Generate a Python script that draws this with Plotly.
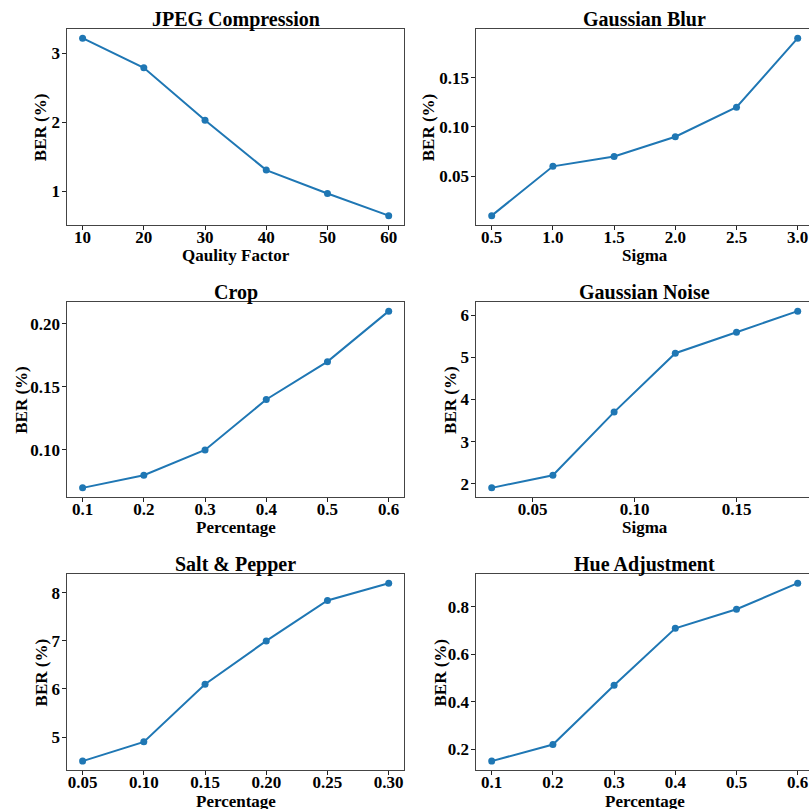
import plotly.graph_objects as go

W = H = 809

titles = ["JPEG Compression", "Gaussian Blur", "Crop", "Gaussian Noise", "Salt & Pepper", "Hue Adjustment"]
xlabels = ["Qaulity Factor", "Sigma", "Percentage", "Sigma", "Percentage", "Percentage"]
ylabel = "BER (%)"

jpeg_x = [10, 20, 30, 40, 50, 60]
jpeg_y = [3.22, 2.79, 2.03, 1.31, 0.97, 0.65]
blur_x = [0.5, 1.0, 1.5, 2.0, 2.5, 3.0]
blur_y = [0.01, 0.06, 0.07, 0.09, 0.12, 0.19]
crop_x = [0.1, 0.2, 0.3, 0.4, 0.5, 0.6]
crop_y = [0.07, 0.08, 0.10, 0.14, 0.17, 0.21]
noise_x = [0.03, 0.06, 0.09, 0.12, 0.15, 0.18]
noise_y = [1.9, 2.2, 3.7, 5.1, 5.6, 6.1]
sp_x = [0.05, 0.10, 0.15, 0.20, 0.25, 0.30]
sp_y = [4.5, 4.9, 6.1, 7.0, 7.84, 8.2]
hue_x = [0.1, 0.2, 0.3, 0.4, 0.5, 0.6]
hue_y = [0.15, 0.22, 0.47, 0.71, 0.79, 0.90]

xtick_vals = [jpeg_x, blur_x, crop_x, [0.05, 0.10, 0.15], sp_x, hue_x]
xtick_fmt = ["d", ".1f", ".1f", ".2f", ".2f", ".1f"]
ytick_vals = [[1, 2, 3], [0.05, 0.10, 0.15], [0.10, 0.15, 0.20], [2, 3, 4, 5, 6], [5, 6, 7, 8], [0.2, 0.4, 0.6, 0.8]]
ytick_fmt = ["d", ".2f", ".2f", "d", "d", ".1f"]
ytitle_offset = [26, 48, 46, 26, 26, 36]

series = [(jpeg_x, jpeg_y), (blur_x, blur_y), (crop_x, crop_y),
          (noise_x, noise_y), (sp_x, sp_y), (hue_x, hue_y)]

# pixel layout of panels (left, right, top, bottom)
col_px = [(67.3, 404.0), (476.4, 813.0)]
row_px = [(29.3, 224.5), (302.3, 496.7), (574.3, 770.0)]

FONT = "Liberation Serif, Times New Roman, serif"
BLUE = "#1f77b4"

fig = go.Figure()
annotations = []

for i, (xs, ys) in enumerate(series):
    r, c = divmod(i, 2)
    L, R = col_px[c]
    T, B = row_px[r]
    # matplotlib-style 5% margins
    xlo, xhi = min(xs), max(xs)
    ylo, yhi = min(ys), max(ys)
    xm = (xhi - xlo) * 0.05
    ym = (yhi - ylo) * 0.05
    x0, x1 = xlo - xm, xhi + xm
    # clip to canvas
    Rc = min(R, W)
    x1c = x0 + (x1 - x0) * (Rc - L) / (R - L)
    n = "" if i == 0 else str(i + 1)
    xa = "x" + n
    ya = "y" + n
    fig.add_trace(go.Scatter(x=xs, y=ys, mode="lines+markers", xaxis=xa, yaxis=ya,
                             line=dict(color=BLUE, width=2),
                             marker=dict(color=BLUE, size=7), showlegend=False))
    common = dict(showgrid=False, zeroline=False, showline=True, linecolor="#444",
                  linewidth=1, mirror=True, ticks="outside", ticklen=4,
                  tickcolor="#222", tickwidth=1,
                  tickfont=dict(family=FONT, size=17, color="black", weight="bold"))
    fig.layout["xaxis" + n] = dict(common, domain=[L / W, Rc / W], range=[x0, x1c],
                                   anchor=ya, tickvals=xtick_vals[i], tickformat=xtick_fmt[i],
                                   ticklabelstandoff=-7)
    fig.layout["yaxis" + n] = dict(common, domain=[1 - B / H, 1 - T / H],
                                   range=[ylo - ym, yhi + ym], anchor=xa,
                                   tickvals=ytick_vals[i], tickformat=ytick_fmt[i],
                                   ticklabelstandoff=-1)
    cx = (L + R) / 2
    annotations.append(dict(text="<b>%s</b>" % titles[i], x=cx / W, y=1 - (T - 10) / H,
                            xref="paper", yref="paper", showarrow=False,
                            xanchor="center", yanchor="middle",
                            font=dict(family=FONT, size=20, color="black")))
    annotations.append(dict(text="<b>%s</b>" % xlabels[i], x=cx / W, y=1 - (B + 31) / H,
                            xref="paper", yref="paper", showarrow=False,
                            xanchor="center", yanchor="middle",
                            font=dict(family=FONT, size=17, color="black")))
    annotations.append(dict(text="<b>%s</b>" % ylabel, x=(L - ytitle_offset[i]) / W,
                            y=1 - (T + B) / 2 / H, xref="paper", yref="paper",
                            showarrow=False, textangle=-90,
                            xanchor="center", yanchor="middle",
                            font=dict(family=FONT, size=17, color="black")))

fig.update_layout(width=W, height=H, margin=dict(l=0, r=0, t=0, b=0),
                  paper_bgcolor="white", plot_bgcolor="white",
                  annotations=annotations,
                  font=dict(family=FONT, color="black"))

fig.write_html("out.html")
